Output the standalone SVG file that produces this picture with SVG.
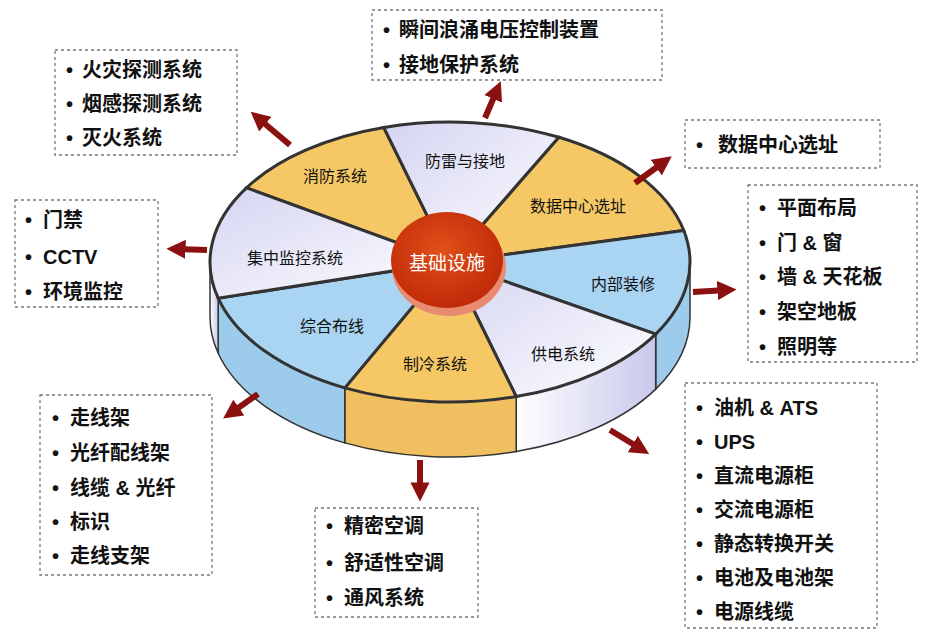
<svg xmlns="http://www.w3.org/2000/svg" width="939" height="636" viewBox="0 0 939 636">
<defs>
<linearGradient id="wh" x1="0" y1="0" x2="1" y2="1"><stop offset="0" stop-color="#d4d4f2"/><stop offset="1" stop-color="#ffffff"/></linearGradient>
<linearGradient id="whs" x1="0" y1="0" x2="1" y2="0"><stop offset="0" stop-color="#ffffff"/><stop offset="1" stop-color="#c8c8ec"/></linearGradient>
<radialGradient id="rd" cx="0.45" cy="0.4" r="0.6"><stop offset="0" stop-color="#e0501a"/><stop offset="1" stop-color="#c02a08"/></radialGradient>
<marker id="ah" viewBox="0 0 10 10" refX="5" refY="5" markerWidth="3.2" markerHeight="3.2" orient="auto"><path d="M0,0 L10,5 L0,10 Z" fill="#8b1010"/></marker>
</defs>
<style>
.y{fill:#f5c865;stroke:#333;stroke-width:3}
.b{fill:#a9d5f2;stroke:#333;stroke-width:3}
.w{fill:url(#wh);stroke:#333;stroke-width:3}
.ys{fill:#f0c060;stroke:#333;stroke-width:1.5}
.bs{fill:#9ccbec;stroke:#333;stroke-width:1.5}
.ws{fill:url(#whs);stroke:#333;stroke-width:1.5}
.lb{font-family:"Noto Sans CJK SC","Liberation Sans",sans-serif;font-size:16px;fill:#111;text-anchor:middle;dominant-baseline:central}
.bx{fill:none;stroke:#777;stroke-width:1.3;stroke-dasharray:3,3}
.t{font-family:"Liberation Sans","Noto Sans CJK SC",sans-serif;font-size:20px;font-weight:bold;fill:#111;dominant-baseline:central}
.ar{stroke:#8b1010;stroke-width:6;marker-end:url(#ah)}
</style>
<rect width="939" height="636" fill="#ffffff"/>
<g id="disc">
<path class="bs" d="M690,262 A240 140 0 0 1 655.7,334.1 L655.7,389.1 A240 140 0 0 0 690,317 Z"/>
<path class="ws" d="M655.7,334.1 A240 140 0 0 1 516.2,396.5 L516.2,451.5 A240 140 0 0 0 655.7,389.1 Z"/>
<path class="ys" d="M516.2,396.5 A240 140 0 0 1 344.8,387.9 L344.8,442.9 A240 140 0 0 0 516.2,451.5 Z"/>
<path class="bs" d="M344.8,387.9 A240 140 0 0 1 218.2,298.2 L218.2,353.2 A240 140 0 0 0 344.8,442.9 Z"/>
<path class="ws" d="M218.2,298.2 A240 140 0 0 1 210,262 L210,317 A240 140 0 0 0 218.2,353.2 Z"/>
<path class="y" d="M450,262 L246.5,187.8 A240 140 0 0 1 383.8,127.5 Z"/>
<path class="w" d="M450,262 L383.8,127.5 A240 140 0 0 1 559,137.3 Z"/>
<path class="y" d="M450,262 L559,137.3 A240 140 0 0 1 683.8,230.5 Z"/>
<path class="b" d="M450,262 L683.8,230.5 A240 140 0 0 1 655.7,334.1 Z"/>
<path class="w" d="M450,262 L655.7,334.1 A240 140 0 0 1 516.2,396.5 Z"/>
<path class="y" d="M450,262 L516.2,396.5 A240 140 0 0 1 344.8,387.9 Z"/>
<path class="b" d="M450,262 L344.8,387.9 A240 140 0 0 1 218.2,298.2 Z"/>
<path class="w" d="M450,262 L218.2,298.2 A240 140 0 0 1 246.5,187.8 Z"/>
</g>
<g id="labels">
<text class="lb" x="335" y="175">消防系统</text>
<text class="lb" x="465" y="160">防雷与接地</text>
<text class="lb" x="578" y="205">数据中心选址</text>
<text class="lb" x="295" y="257">集中监控系统</text>
<text class="lb" x="623" y="283">内部装修</text>
<text class="lb" x="332" y="325">综合布线</text>
<text class="lb" x="435" y="363">制冷系统</text>
<text class="lb" x="563" y="353">供电系统</text>
</g>
<g id="center">
<ellipse cx="449" cy="267" rx="57" ry="49" fill="#e88a70"/>
<ellipse cx="447" cy="260" rx="56" ry="48" fill="url(#rd)"/>
<text x="447" y="261" style="font-family:'Noto Sans CJK SC',sans-serif;font-size:19px;fill:#fff;text-anchor:middle;dominant-baseline:central">基础设施</text>
</g>
<g id="connectors">
<line class="ar" x1="290" y1="145" x2="258" y2="118"/>
<line class="ar" x1="485" y1="118" x2="497" y2="90"/>
<line class="ar" x1="635" y1="183" x2="664" y2="162"/>
<line class="ar" x1="207" y1="250" x2="176" y2="249"/>
<line class="ar" x1="693" y1="292" x2="727" y2="290"/>
<line class="ar" x1="258" y1="394" x2="231" y2="413"/>
<line class="ar" x1="420" y1="460" x2="420" y2="492"/>
<line class="ar" x1="610" y1="430" x2="641" y2="449"/>
</g>
<g id="box1"><rect class="bx" x="55" y="50" width="182" height="105"/>
<text class="t" x="66" y="70">•</text><text class="t" x="82" y="70">火灾探测系统</text>
<text class="t" x="66" y="104">•</text><text class="t" x="82" y="104">烟感探测系统</text>
<text class="t" x="66" y="138">•</text><text class="t" x="82" y="138">灭火系统</text></g>
<g id="box2"><rect class="bx" x="372" y="10" width="290" height="70"/>
<text class="t" x="383" y="30">•</text><text class="t" x="399" y="30">瞬间浪涌电压控制装置</text>
<text class="t" x="383" y="65">•</text><text class="t" x="399" y="65">接地保护系统</text></g>
<g id="box3"><rect class="bx" x="685" y="120" width="195" height="48"/>
<text class="t" x="696" y="145">•</text><text class="t" x="718" y="145">数据中心选址</text></g>
<g id="box4"><rect class="bx" x="748" y="185" width="169" height="177"/>
<text class="t" x="759" y="208">•</text><text class="t" x="777" y="208">平面布局</text>
<text class="t" x="759" y="243">•</text><text class="t" x="777" y="243">门 &amp; 窗</text>
<text class="t" x="759" y="277">•</text><text class="t" x="777" y="277">墙 &amp; 天花板</text>
<text class="t" x="759" y="312">•</text><text class="t" x="777" y="312">架空地板</text>
<text class="t" x="759" y="347">•</text><text class="t" x="777" y="347">照明等</text></g>
<g id="box5"><rect class="bx" x="15" y="200" width="143" height="107"/>
<text class="t" x="25" y="220">•</text><text class="t" x="43" y="220">门禁</text>
<text class="t" x="25" y="257">•</text><text class="t" x="43" y="257">CCTV</text>
<text class="t" x="25" y="292">•</text><text class="t" x="43" y="292">环境监控</text></g>
<g id="box6"><rect class="bx" x="40" y="395" width="172" height="180"/>
<text class="t" x="52" y="418">•</text><text class="t" x="70" y="418">走线架</text>
<text class="t" x="52" y="453">•</text><text class="t" x="70" y="453">光纤配线架</text>
<text class="t" x="52" y="488">•</text><text class="t" x="70" y="488">线缆 &amp; 光纤</text>
<text class="t" x="52" y="522">•</text><text class="t" x="70" y="522">标识</text>
<text class="t" x="52" y="556">•</text><text class="t" x="70" y="556">走线支架</text></g>
<g id="box7"><rect class="bx" x="315" y="508" width="163" height="109"/>
<text class="t" x="326" y="526">•</text><text class="t" x="344" y="526">精密空调</text>
<text class="t" x="326" y="563">•</text><text class="t" x="344" y="563">舒适性空调</text>
<text class="t" x="326" y="598">•</text><text class="t" x="344" y="598">通风系统</text></g>
<g id="box8"><rect class="bx" x="685" y="383" width="192" height="245"/>
<text class="t" x="696" y="408">•</text><text class="t" x="714" y="408">油机 &amp; ATS</text>
<text class="t" x="696" y="442">•</text><text class="t" x="714" y="442">UPS</text>
<text class="t" x="696" y="476">•</text><text class="t" x="714" y="476">直流电源柜</text>
<text class="t" x="696" y="510">•</text><text class="t" x="714" y="510">交流电源柜</text>
<text class="t" x="696" y="544">•</text><text class="t" x="714" y="544">静态转换开关</text>
<text class="t" x="696" y="578">•</text><text class="t" x="714" y="578">电池及电池架</text>
<text class="t" x="696" y="612">•</text><text class="t" x="714" y="612">电源线缆</text></g>
</svg>
